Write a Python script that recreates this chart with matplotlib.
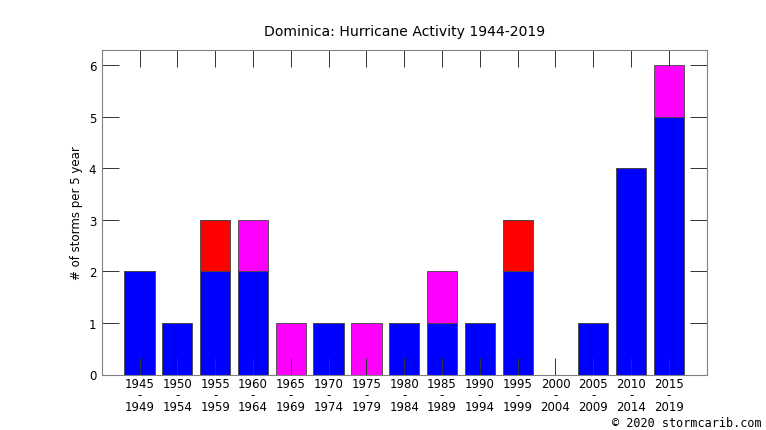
import matplotlib
matplotlib.use("Agg")
import matplotlib.pyplot as plt
import numpy as np

plt.rcParams["font.family"] = ["DejaVu Sans"]

periods_start = ["1945", "1950", "1955", "1960", "1965", "1970", "1975", "1980",
                 "1985", "1990", "1995", "2000", "2005", "2010", "2015"]
periods_end = ["1949", "1954", "1959", "1964", "1969", "1974", "1979", "1984",
               "1989", "1994", "1999", "2004", "2009", "2014", "2019"]
blue_vals = [2, 1, 2, 2, 0, 1, 0, 1, 1, 1, 2, 0, 1, 4, 5]
red_vals = [0, 0, 1, 0, 0, 0, 0, 0, 0, 0, 1, 0, 0, 0, 0]
magenta_vals = [0, 0, 0, 1, 1, 0, 1, 0, 1, 0, 0, 0, 0, 0, 1]

labels = [f"{a}\n-\n{b}" for a, b in zip(periods_start, periods_end)]

fig = plt.figure(figsize=(7.66, 4.31), dpi=100)
ax = fig.add_axes([101.7 / 766, 1 - 375.5 / 431, (706.7 - 101.7) / 766, (375.5 - 51) / 431])

x = np.arange(len(labels))
blue = np.array(blue_vals)
red = np.array(red_vals)
mag = np.array(magenta_vals)
w = 0.8
ec = "#444444"
lw = 0.6
ax.bar(x, blue, width=w, color="#0000ff", edgecolor=ec, linewidth=lw)
ax.bar(x, red, width=w, bottom=blue, color="#ff0000", edgecolor=ec, linewidth=lw)
ax.bar(x, mag, width=w, bottom=blue + red, color="#ff00ff", edgecolor=ec, linewidth=lw)

ax.set_xlim(-1, 15)
ax.set_ylim(0, 6.3)
ax.set_xticks(x)
ax.set_xticklabels(labels, fontsize=8.5, linespacing=0.82)
ax.set_yticks(range(0, 7))
ax.tick_params(axis="both", direction="in", top=True, right=True, length=12.5,
               width=0.7, color="#333333", labelsize=8.5, pad=4)
ax.tick_params(axis="x", pad=2)
for s in ax.spines.values():
    s.set_color("#808080")
    s.set_linewidth(0.8)

ax.set_ylabel("# of storms per 5 year", fontsize=8.5, labelpad=4)
ax.set_title("Dominica: Hurricane Activity 1944-2019", fontsize=10.1, pad=11)

fig.text(762 / 766, 1 - 424 / 431, "© 2020 stormcarib.com", family="DejaVu Sans Mono",
         fontsize=8.5, ha="right", va="center")

fig.savefig("out.png", dpi=100)
